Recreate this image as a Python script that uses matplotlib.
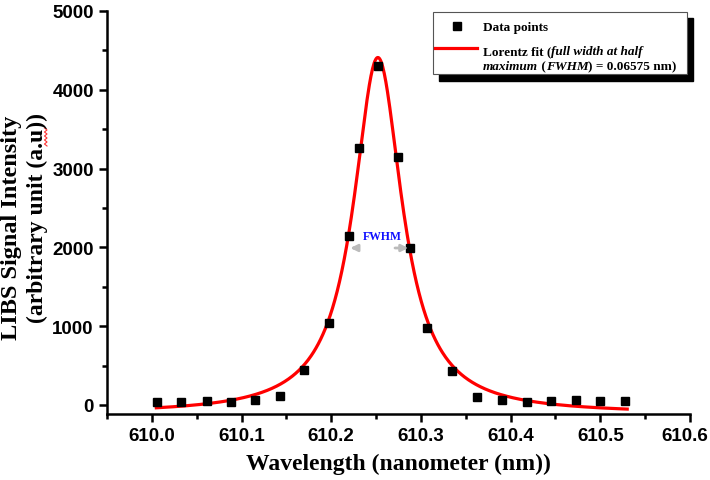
import numpy as np
import matplotlib.pyplot as plt
import matplotlib.transforms as mtrans
from matplotlib.patches import Rectangle
from matplotlib.lines import Line2D

# measured data points
wavelength = [610.006, 610.033, 610.061, 610.088, 610.115, 610.143, 610.170,
              610.198, 610.220, 610.231, 610.252, 610.274, 610.288, 610.307,
              610.335, 610.362, 610.390, 610.418, 610.445, 610.473, 610.500,
              610.527]
intensity = [34, 42, 55, 40, 63, 110, 444, 1037, 2141, 3258, 4298, 3143,
             1989, 980, 431, 101, 63, 42, 55, 60, 47, 51]

# Lorentz fit parameters
xc = 610.252
fwhm = 0.06575
y0 = -115
height = 4525
fit_range = (610.005, 610.53)

W, H = 710, 481
fig = plt.figure(figsize=(7.1, 4.81), dpi=100)
ax = fig.add_axes([107 / W, 1 - 415 / H, (690 - 107) / W, (415 - 12) / H])

xf = np.linspace(fit_range[0], fit_range[1], 600)
yf = y0 + height * (fwhm / 2) ** 2 / ((xf - xc) ** 2 + (fwhm / 2) ** 2)
ax.plot(xf, yf, color="#ff0000", lw=2.3, zorder=2)
ax.plot(wavelength, intensity, "s", color="black", ms=6.3, zorder=3)

ax.set_xlim(609.951, 610.6)
ax.set_ylim(-115, 5000)
xt = np.arange(610.0, 610.61, 0.1)
ax.set_xticks(xt)
ax.set_xticks(np.arange(609.95, 610.6, 0.05), minor=True)
ax.set_yticks(np.arange(0, 5001, 1000))
ax.set_yticks(np.arange(0, 5001, 500), minor=True)
ax.set_xticklabels([f"{v:.1f}" for v in xt])

for s in ["top", "right"]:
    ax.spines[s].set_visible(False)
for s in ["left", "bottom"]:
    ax.spines[s].set_linewidth(1.8)
ax.tick_params(which="major", length=6, width=1.8, direction="out")
ax.tick_params(which="minor", length=3.5, width=1.8, direction="out")
for lab in ax.get_xticklabels() + ax.get_yticklabels():
    lab.set_fontfamily("Liberation Sans")
    lab.set_fontweight("bold")
    lab.set_fontsize(13.5)
# keep the last x label inside the picture
last = ax.get_xticklabels()[-1]
last.set_transform(last.get_transform() +
                   mtrans.ScaledTranslation(-5 / 100, 0, fig.dpi_scale_trans))

ax.set_xlabel("Wavelength (nanometer (nm))", fontfamily="Liberation Serif",
              fontweight="bold", fontsize=17, labelpad=6)
fig.text(12 / W, 1 - 228 / H, "LIBS Signal Intensity", rotation=90,
         ha="center", va="center", fontfamily="Liberation Serif",
         fontweight="bold", fontsize=17.5)
fig.text(37 / W, 1 - 218 / H, "(arbitrary unit (a.u))", rotation=90,
         ha="center", va="center", fontfamily="Liberation Serif",
         fontweight="bold", fontsize=17)

# red spell-check squiggle next to "a.u"
sq_y = np.linspace(129, 147, 10)
sq_x = np.where(np.arange(10) % 2 == 0, 44.5, 47)
fig.add_artist(Line2D(sq_x / W, 1 - sq_y / H, color="#ff3030", lw=0.8,
                      transform=fig.transFigure))

# FWHM marker
ax.annotate("", xy=(610.2183, 1992), xytext=(610.2310, 1992),
            arrowprops=dict(arrowstyle="-|>", color="#bbbbbb", lw=2,
                            mutation_scale=10))
ax.annotate("", xy=(610.2890, 1992), xytext=(610.2680, 1992),
            arrowprops=dict(arrowstyle="-|>", color="#bbbbbb", lw=2,
                            mutation_scale=10))
ax.text(610.2575, 2140, "FWHM", color="#1010ff", ha="center", va="center",
        fontfamily="Liberation Serif", fontweight="bold", fontsize=8.5)

# legend box with shadow (pixel coords)
def px(x, y):
    return x / W, 1 - y / H

sx, sy = px(439, 82)
fig.add_artist(Rectangle((sx, sy), (693 - 439) / W, (82 - 19) / H,
                         transform=fig.transFigure, color="black", zorder=5))
bx, by = px(433, 75)
fig.add_artist(Rectangle((bx, by), (687 - 433) / W, (75 - 13) / H,
                         transform=fig.transFigure, facecolor="white",
                         edgecolor="#555555", lw=0.8, zorder=6))
fig.add_artist(Line2D([457 / W], [1 - 27 / H], marker="s", color="black",
                      ms=6.3, transform=fig.transFigure, zorder=7))
fig.add_artist(Line2D([435 / W, 477 / W], [1 - 49 / H, 1 - 49 / H],
                      color="#ff0000", lw=2.3, transform=fig.transFigure,
                      zorder=7))

fig.canvas.draw()
renderer = fig.canvas.get_renderer()


def rich_line(x0, y0, pieces, size=9.5):
    x = x0
    for txt, style in pieces:
        t = fig.text(x / W, 1 - y0 / H, txt, ha="left", va="center",
                     fontfamily="Liberation Serif", fontweight="bold",
                     fontstyle=style, fontsize=size, zorder=8)
        bb = t.get_window_extent(renderer)
        x += bb.width


rich_line(483, 28, [("Data points", "normal")])
rich_line(483, 52, [("Lorentz fit (", "normal"),
                    ("full width at half", "italic")])
rich_line(483, 67, [("maximum", "italic"), (" (", "normal"),
                    ("FWHM", "italic"), (") = 0.06575 nm)", "normal")])

fig.savefig("out.png", dpi=100, facecolor="white")
